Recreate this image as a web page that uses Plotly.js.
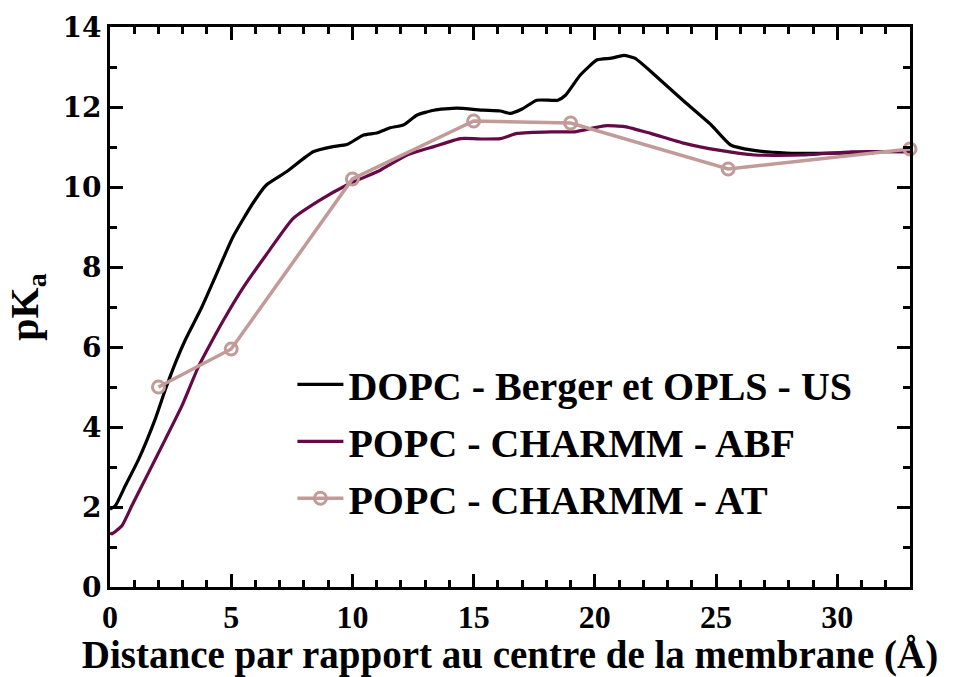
<!DOCTYPE html>
<html>
<head>
<meta charset="utf-8">
<script src="https://cdn.plot.ly/plotly-3.0.1.min.js"></script>
</head>
<body style="margin:0;background:#fff">
<div id="chart" style="width:956px;height:677px"></div>
<script>
// DOPC - Berger et OPLS - US
const usX = [0, 0.22, 0.63, 1.18, 1.86, 2.28, 2.69, 3.1, 3.79, 4.34, 5.07, 5.9, 6.45, 7.28, 8.38, 9.2, 9.77, 10.46, 11.0, 11.56, 12.1, 12.67, 13.36, 14.3, 15.4, 16.1, 16.5, 17.0, 17.6, 18.47, 18.8, 19.4, 20.1, 20.68, 21.2, 21.65, 22.47, 23.7, 24.8, 25.6, 26.5, 27.9, 29.25, 30.5, 31.5];
const usY = [1.95, 2.03, 2.53, 3.19, 4.19, 4.93, 5.59, 6.17, 7.0, 7.75, 8.75, 9.6, 10.05, 10.38, 10.88, 11.01, 11.06, 11.3, 11.35, 11.48, 11.55, 11.8, 11.92, 11.97, 11.92, 11.9, 11.84, 11.95, 12.17, 12.17, 12.3, 12.8, 13.18, 13.22, 13.29, 13.22, 12.8, 12.13, 11.55, 11.05, 10.92, 10.85, 10.84, 10.85, 10.85];
// POPC - CHARMM - ABF
const abfX = [0, 0.08, 0.5, 0.9, 1.59, 2.28, 2.96, 3.65, 4.34, 4.68, 5.5, 6.46, 7.55, 8.66, 9.77, 11.15, 12.25, 13.36, 14.46, 15.43, 16.1, 16.8, 18.2, 19.16, 20.4, 21.23, 22.3, 23.7, 25.1, 26.6, 28.55, 30.6, 33];
const abfY = [1.35, 1.33, 1.54, 2.03, 2.86, 3.69, 4.52, 5.51, 6.3, 6.67, 7.49, 8.32, 9.21, 9.67, 10.05, 10.42, 10.8, 11.01, 11.21, 11.2, 11.21, 11.34, 11.38, 11.38, 11.53, 11.51, 11.34, 11.09, 10.92, 10.8, 10.8, 10.88, 10.88];
// POPC - CHARMM - AT
const atX = [2, 5, 10, 15, 19, 25.5, 33];
const atY = [5.0, 5.95, 10.2, 11.65, 11.6, 10.45, 10.95];

const names = ['DOPC - Berger et OPLS - US', 'POPC - CHARMM - ABF', 'POPC - CHARMM - AT'];
const fSerif = 'Liberation Serif';
const fWide = 'DejaVu Serif';

const traces = [
  {x: usX, y: usY, name: names[0], mode: 'lines', line: {color: '#000000', width: 3.2, shape: 'spline', smoothing: 0.5}, legendgroup: 'a'},
  {x: abfX, y: abfY, name: names[1], mode: 'lines', line: {color: '#650a47', width: 3.2, shape: 'spline', smoothing: 0.5}, legendgroup: 'b'},
  {x: atX, y: atY, name: names[2], mode: 'lines+markers', line: {color: '#c29a98', width: 3.5},
   marker: {symbol: 'circle-open', size: 12, color: '#c29a98', line: {width: 3, color: '#c29a98'}}, legendgroup: 'c', cliponaxis: false}
];

const layout = {
  width: 956, height: 677,
  font: {family: fSerif, color: '#000', weight: 'bold'},
  margin: {l: 110, r: 46, t: 27, b: 90},
  paper_bgcolor: '#fff', plot_bgcolor: '#fff',
  showlegend: true,
  legend: {x: 0.228, y: 0.42, xanchor: 'left', yanchor: 'top', bgcolor: 'rgba(0,0,0,0)',
    font: {family: fSerif, size: 40, color: '#000', weight: 'bold'}, tracegroupgap: 2, itemwidth: 46},
  xaxis: {
    showline: true, linewidth: 3, linecolor: '#000', mirror: 'ticks',
    ticks: 'inside', ticklen: 13, tickwidth: 3, tickcolor: '#000',
    showgrid: false, zeroline: false,
    range: [0, 33], tickmode: 'linear', tick0: 0, dtick: 5,
    minor: {ticks: 'inside', ticklen: 7, tickwidth: 3, tickcolor: '#000', dtick: 1, tick0: 0},
    tickfont: {family: fSerif, size: 32, color: '#000', weight: 'bold'},
    title: {text: 'Distance par rapport au centre de la membrane (Å)', font: {family: fSerif, size: 39, color: '#000', weight: 'bold'}, standoff: 10}
  },
  yaxis: {
    showline: true, linewidth: 3, linecolor: '#000', mirror: 'ticks',
    ticks: 'inside', ticklen: 13, tickwidth: 3, tickcolor: '#000',
    showgrid: false, zeroline: false,
    range: [0, 14], tickmode: 'linear', tick0: 0, dtick: 2,
    minor: {ticks: 'inside', ticklen: 7, tickwidth: 3, tickcolor: '#000', dtick: 1, tick0: 0},
    tickfont: {family: fWide, size: 28, color: '#000', weight: 'bold'},
    title: {text: 'pK<sub>a</sub>', font: {family: fSerif, size: 40, color: '#000', weight: 'bold'}, standoff: 12}
  }
};

Plotly.newPlot('chart', traces, layout, {displayModeBar: false});
</script>
</body>
</html>
